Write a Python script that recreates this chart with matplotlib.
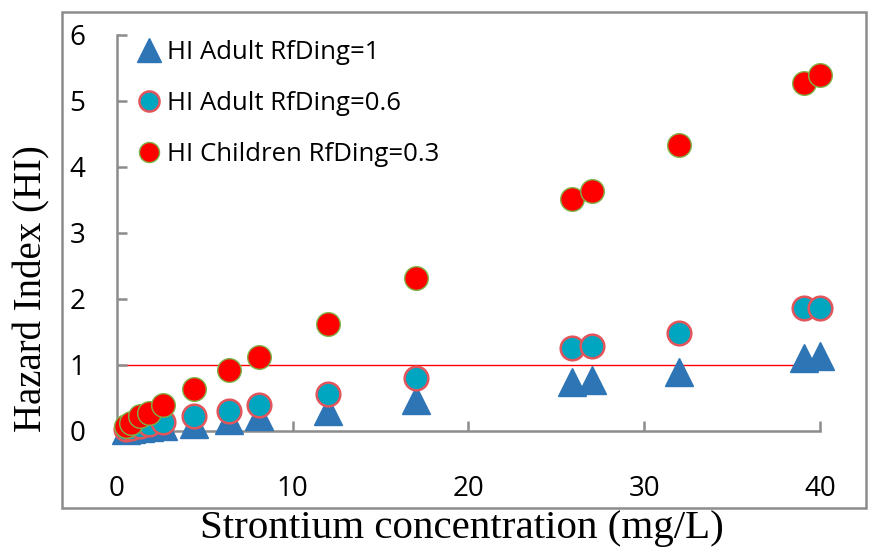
import numpy as np
import matplotlib
matplotlib.use("Agg")
from matplotlib import pyplot as plt
from matplotlib.patches import Rectangle

# Strontium concentration (mg/L) and hazard index values
sr_conc = [0.5, 0.8, 1.3, 1.8, 2.6, 4.4, 6.4, 8.1, 12.0, 17.0, 25.9, 27.0, 32.0, 39.1, 40.0]
hi_children_03 = [0.07, 0.12, 0.22, 0.28, 0.39, 0.64, 0.92, 1.12, 1.62, 2.32, 3.52, 3.63, 4.33, 5.27, 5.40]
hi_adult_06 = [0.03, 0.05, 0.08, 0.10, 0.14, 0.23, 0.30, 0.39, 0.56, 0.80, 1.26, 1.29, 1.49, 1.86, 1.87]
hi_adult_1 = [0.02, 0.03, 0.05, 0.06, 0.08, 0.11, 0.17, 0.22, 0.31, 0.47, 0.74, 0.78, 0.89, 1.10, 1.14]

labels = ["HI Adult RfDing=1", "HI Adult RfDing=0.6", "HI Children RfDing=0.3"]
hi_limit = 1
x_ticks = [0, 10, 20, 30, 40]
y_ticks = [0, 1, 2, 3, 4, 5, 6]

fig = plt.figure(figsize=(8.7, 5.5), dpi=100)
ax = fig.add_axes([0.1345, 0.2164, 0.808, 0.72])

# outer grey frame like the Excel chart area
fig.patches.append(Rectangle((0.0713, 0.0764), 0.924, 0.902, transform=fig.transFigure,
                             fill=False, edgecolor="#8c8c8c", linewidth=1.8))

ax.hlines(hi_limit, 0, 40.3, color="red", linewidth=1, zorder=1)

ax.plot(sr_conc, hi_adult_1, linestyle="none", marker="^", markersize=20,
        color="#2E75B6", markeredgecolor="#2E75B6", label=labels[0], clip_on=False, zorder=3)
ax.plot(sr_conc, hi_adult_06, linestyle="none", marker="o", markersize=17,
        color="#00A5BF", markeredgecolor="#E2555B", markeredgewidth=1.8,
        label=labels[1], clip_on=False, zorder=4)
ax.plot(sr_conc, hi_children_03, linestyle="none", marker="o", markersize=17,
        color="#FF0000", markeredgecolor="#7DB346", markeredgewidth=1.0,
        label=labels[2], clip_on=False, zorder=5)

ax.set_xlim(0, 40)
ax.set_ylim(0, 6)
ax.set_xticks(x_ticks)
ax.set_yticks(y_ticks)

for side in ["top", "right"]:
    ax.spines[side].set_visible(False)
for side in ["left", "bottom"]:
    ax.spines[side].set_color("#8c8c8c")
    ax.spines[side].set_linewidth(1.8)

ax.tick_params(axis="both", direction="in", length=7, width=1.8, color="#8c8c8c",
               labelsize=20)
ax.tick_params(axis="y", pad=23)
ax.tick_params(axis="x", pad=32)
for lab in ax.get_xticklabels() + ax.get_yticklabels():
    lab.set_fontfamily("Open Sans")

leg = ax.legend(loc="upper left", bbox_to_anchor=(-0.005, 1.045), frameon=False,
                prop={"family": "Open Sans", "size": 18.5}, handletextpad=0.2,
                handlelength=1.0, labelspacing=1.0, markerscale=0.85)

fig.text(0.531, 0.022, "Strontium concentration (mg/L)", ha="center", va="baseline",
         family="Liberation Serif", fontsize=29.5)
fig.text(0.037, 0.475, "Hazard Index (HI)", ha="center", va="center", rotation=90,
         family="Liberation Serif", fontsize=28)

fig.savefig("out.png", dpi=100)
